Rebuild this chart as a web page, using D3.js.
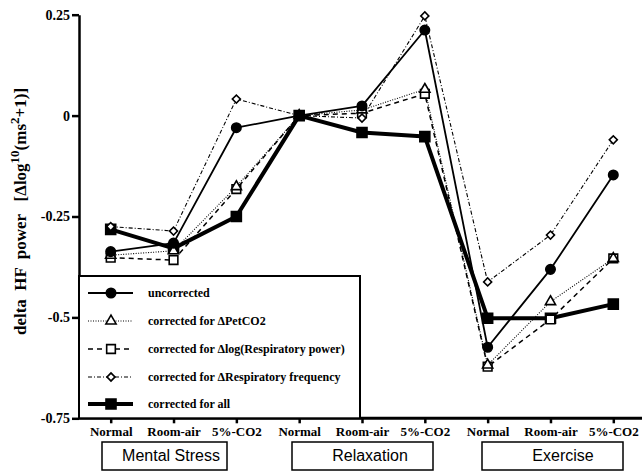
<!DOCTYPE html>
<html><head><meta charset="utf-8">
<script src="https://cdn.jsdelivr.net/npm/d3@7"></script>
<style>body{margin:0;background:#fff}svg{display:block}</style>
</head><body><svg id="chart" width="642" height="474"></svg>
<script>
// ---- data ----
const conditions = ["Normal","Room-air","5%-CO2","Normal","Room-air","5%-CO2","Normal","Room-air","5%-CO2"];
const groups = ["Mental Stress","Relaxation","Exercise"];
const yTicks = [0.25, 0, -0.25, -0.5, -0.75];
const uncorrected       = [-0.337,-0.316,-0.030, 0, 0.024, 0.212,-0.574,-0.381,-0.147];
const correctedPetCO2   = [-0.346,-0.335,-0.176, 0, 0.014, 0.065,-0.618,-0.461,-0.354];
const correctedLogResp  = [-0.352,-0.358,-0.182, 0, 0.006, 0.054,-0.622,-0.505,-0.354];
const correctedRespFreq = [-0.275,-0.286, 0.041, 0,-0.006, 0.247,-0.412,-0.296,-0.060];
const correctedAll      = [-0.282,-0.329,-0.250, 0,-0.042,-0.052,-0.502,-0.502,-0.467];
const seriesNames = ["uncorrected","corrected for \u0394PetCO2","corrected for \u0394log(Respiratory power)","corrected for \u0394Respiratory frequency","corrected for all"];

// ---- styles ----
const styles = [
  {values: uncorrected,       width: 1.8, dash: null,      sym: d3.symbolCircle,   size: 70,  fill: "#000", rot: 0},
  {values: correctedPetCO2,   width: 1.1, dash: "1,1.5",   sym: d3.symbolTriangle, size: 45,  fill: "#fff", rot: 0},
  {values: correctedLogResp,  width: 1.5, dash: "5,4",     sym: d3.symbolSquare,   size: 75,  fill: "#fff", rot: 0},
  {values: correctedRespFreq, width: 1.1, dash: "4,2,1,2", sym: d3.symbolSquare,   size: 32,  fill: "#fff", rot: 45},
  {values: correctedAll,      width: 4,   dash: null,      sym: d3.symbolSquare,   size: 100, fill: "#000", rot: 0}
];

const svg = d3.select("#chart");
const x = d3.scaleLinear().domain([0, 8]).range([110.7, 613.3]);
const y = d3.scaleLinear().domain([-0.75, 0.25]).range([418.3, 14.7]);
const axisX = 79;
const serif = "'Liberation Serif','Times New Roman',serif";
const sans = "'Liberation Sans',Arial,sans-serif";

// y axis
const yAxis = svg.append("g").attr("transform", `translate(${axisX},0)`)
  .call(d3.axisLeft(y).tickValues(yTicks).tickSize(7).tickSizeOuter(0).tickPadding(2)
    .tickFormat(d => d === 0 ? "0" : String(d)));
yAxis.select(".domain").attr("stroke-width", 2.5);
yAxis.selectAll(".tick line").attr("stroke-width", 2.5);
yAxis.selectAll(".tick text").attr("font-family", serif).attr("font-weight", "bold").attr("font-size", 14).attr("fill", "#000");

// x axis
const xAxis = svg.append("g").attr("transform", `translate(0,${y(-0.75)})`)
  .call(d3.axisBottom(x).tickValues(d3.range(conditions.length)).tickSize(5).tickPadding(3)
    .tickFormat(i => conditions[i]));
xAxis.select(".domain").remove();
xAxis.selectAll(".tick line").attr("stroke-width", 2.5);
xAxis.selectAll(".tick text").attr("font-family", serif).attr("font-weight", "bold").attr("font-size", 13).attr("fill", "#000");
svg.append("line").attr("x1", axisX - 1).attr("x2", 642).attr("y1", y(-0.75)).attr("y2", y(-0.75))
  .attr("stroke", "#000").attr("stroke-width", 3);

// y title
const title = svg.append("text")
  .attr("transform", `translate(26,${(85 + 338) / 2}) rotate(-90)`)
  .attr("text-anchor", "middle").attr("font-family", serif).attr("font-weight", "bold").attr("font-size", 17)
  .attr("xml:space", "preserve");
title.append("tspan").text("delta  HF  power   [\u0394log");
title.append("tspan").attr("dy", -7).attr("font-size", 13).text("10");
title.append("tspan").attr("dy", 7).text("(ms");
title.append("tspan").attr("dy", -7).attr("font-size", 13).text("2");
title.append("tspan").attr("dy", 7).text("+1)]");

// legend box
const lg = svg.append("g");
lg.append("rect").attr("x", axisX).attr("y", 276).attr("width", 281).attr("height", y(-0.75) - 276)
  .attr("fill", "#fff").attr("stroke", "#000").attr("stroke-width", 2);

// lines and points
const line = d3.line().x((d, i) => x(i)).y(d => y(d));
const drawOrder = [4, 2, 1, 3, 0];
drawOrder.forEach(k => {
  const s = styles[k];
  svg.append("path").datum(s.values).attr("d", line).attr("fill", "none").attr("stroke", "#000")
    .attr("stroke-width", s.width).attr("stroke-dasharray", s.dash).attr("stroke-linejoin", "round");
});
drawOrder.forEach(k => {
  const s = styles[k];
  svg.append("g").selectAll("path").data(s.values).join("path")
    .attr("transform", (d, i) => `translate(${x(i)},${y(d)}) rotate(${s.rot})`)
    .attr("d", d3.symbol().type(s.sym).size(s.size))
    .attr("fill", s.fill).attr("stroke", "#000").attr("stroke-width", 1.6);
});

// legend entries
const legendYs = [293, 321, 349, 377, 404];
styles.forEach((s, k) => {
  const g = lg.append("g").attr("transform", `translate(0,${legendYs[k]})`);
  g.append("line").attr("x1", 88).attr("x2", 133).attr("y1", 0).attr("y2", 0)
    .attr("stroke", "#000").attr("stroke-width", s.width).attr("stroke-dasharray", s.dash);
  g.append("path").attr("transform", `translate(111,0) rotate(${s.rot})`).attr("d", d3.symbol().type(s.sym).size(s.size))
    .attr("fill", s.fill).attr("stroke", "#000").attr("stroke-width", 1.6);
  g.append("text").attr("x", 148).attr("y", 4).attr("font-family", serif).attr("font-weight", "bold")
    .attr("font-size", 12).text(seriesNames[k]);
});

// group boxes
const boxSpec = [{x0: 102, x1: 227, tx: 171}, {x0: 292, x1: 433, tx: 370}, {x0: 482, x1: 623, tx: 563}];
groups.forEach((gname, k) => {
  const b = boxSpec[k];
  svg.append("rect").attr("x", b.x0).attr("y", 442).attr("width", b.x1 - b.x0).attr("height", 28)
    .attr("fill", "none").attr("stroke", "#000").attr("stroke-width", 1.5);
  svg.append("text").attr("x", b.tx).attr("y", 461).attr("text-anchor", "middle")
    .attr("font-family", sans).attr("font-size", 16).text(gname);
});
</script></body></html>
